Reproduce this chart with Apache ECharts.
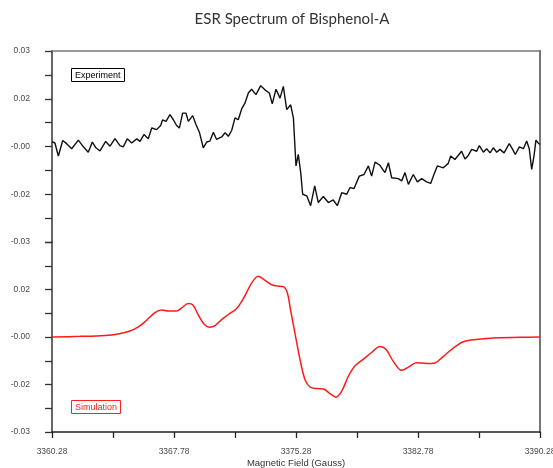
<!DOCTYPE html>
<html>
<head>
<meta charset="utf-8">
<title>ESR Spectrum of Bisphenol-A</title>
<script src="https://cdn.jsdelivr.net/npm/echarts@6/dist/echarts.min.js"></script>
<style>
  html, body { margin: 0; padding: 0; background: #fff; }
  #chart { width: 553px; height: 468px; }
</style>
</head>
<body>
<div id="chart"></div>
<script>
// Measured spectrum (magnetic field in gauss, first-derivative signal)
const expField = [
  3360.28, 3360.32, 3360.46, 3360.67, 3360.94, 3361.18, 3361.49, 3361.90, 3362.21, 3362.51,
  3362.76, 3362.98, 3363.23, 3363.58, 3363.85, 3364.15, 3364.46, 3364.66, 3364.91, 3365.18,
  3365.49, 3365.69, 3365.94, 3366.20, 3366.41, 3366.71, 3366.96, 3367.08, 3367.29, 3367.53,
  3367.74, 3367.94, 3368.11, 3368.31, 3368.52, 3368.66, 3368.93, 3369.13, 3369.34, 3369.58,
  3369.79, 3369.99, 3370.20, 3370.40, 3370.71, 3370.92, 3371.12, 3371.33, 3371.53, 3371.73,
  3371.94, 3372.14, 3372.35, 3372.55, 3372.82, 3373.11, 3373.37, 3373.64, 3373.82, 3374.05,
  3374.30, 3374.50, 3374.71, 3374.95, 3375.12, 3375.28, 3375.42, 3375.57, 3375.69, 3375.94,
  3376.18, 3376.43, 3376.65, 3376.96, 3377.27, 3377.57, 3377.82, 3378.09, 3378.40, 3378.60,
  3378.85, 3379.17, 3379.46, 3379.73, 3379.93, 3380.14, 3380.44, 3380.75, 3380.96, 3381.16,
  3381.26, 3381.57, 3381.78, 3381.98, 3382.19, 3382.49, 3382.74, 3383.01, 3383.31, 3383.56,
  3383.76, 3383.97, 3384.34, 3384.64, 3384.79, 3385.05, 3385.46, 3385.67, 3385.87, 3386.08,
  3386.39, 3386.55, 3386.80, 3387.00, 3387.21, 3387.41, 3387.62, 3387.82, 3388.07, 3388.39,
  3388.60, 3388.76, 3389.01, 3389.26, 3389.46, 3389.62, 3389.77, 3389.91, 3390.03, 3390.17,
  3390.28
];
const expSignal = [
  0.0015, 0.0017, 0.0011, -0.0030, 0.0019, 0.0009, -0.0007, 0.0020, -0.0001, -0.0018,
  0.0014, -0.0004, -0.0014, 0.0016, 0.0001, 0.0025, 0.0003, -0.0001, 0.0024, 0.0011,
  0.0024, 0.0016, 0.0038, 0.0024, 0.0058, 0.0053, 0.0066, 0.0084, 0.0079, 0.0100,
  0.0084, 0.0066, 0.0058, 0.0105, 0.0105, 0.0079, 0.0097, 0.0069, 0.0045, -0.0004,
  0.0014, 0.0017, 0.0045, 0.0022, 0.0030, 0.0043, 0.0032, 0.0051, 0.0090, 0.0084,
  0.0118, 0.0136, 0.0168, 0.0180, 0.0163, 0.0191, 0.0178, 0.0168, 0.0134, 0.0180,
  0.0152, 0.0189, 0.0116, 0.0131, 0.0090, -0.0061, -0.0025, -0.0082, -0.0150, -0.0155,
  -0.0186, -0.0124, -0.0176, -0.0157, -0.0176, -0.0168, -0.0186, -0.0145, -0.0150, -0.0129,
  -0.0132, -0.0093, -0.0088, -0.0061, -0.0093, -0.0049, -0.0059, -0.0082, -0.0051, -0.0098,
  -0.0103, -0.0101, -0.0108, -0.0082, -0.0119, -0.0088, -0.0111, -0.0101, -0.0111, -0.0116,
  -0.0088, -0.0061, -0.0067, -0.0053, -0.0030, -0.0041, -0.0015, -0.0039, -0.0028, -0.0009,
  -0.0015, 0.0003, -0.0018, -0.0007, -0.0020, -0.0004, -0.0018, -0.0009, -0.0020, 0.0009,
  -0.0009, -0.0025, -0.0001, -0.0007, 0.0017, -0.0007, -0.0072, -0.0030, 0.0020, 0.0011,
  0.0006
];

// Simulated spectrum
const simField = [
  3360.28, 3362.00, 3363.54, 3364.26, 3365.07, 3365.59, 3366.10, 3366.61, 3367.02, 3367.43,
  3367.94, 3368.25, 3368.66, 3368.93, 3369.28, 3369.62, 3369.95, 3370.30, 3370.71, 3371.12,
  3371.63, 3372.04, 3372.55, 3372.96, 3373.27, 3373.78, 3374.30, 3374.50, 3374.75, 3374.95,
  3375.22, 3375.53, 3375.83, 3376.14, 3376.55, 3376.96, 3377.37, 3377.74, 3378.09, 3378.50,
  3378.91, 3379.42, 3379.93, 3380.44, 3380.81, 3381.26, 3381.78, 3382.19, 3382.70, 3383.31,
  3383.82, 3384.34, 3384.95, 3385.57, 3386.18, 3387.41, 3389.05, 3390.28
];
const simSignal = [
  0.0000, 0.0002, 0.0005, 0.0009, 0.0019, 0.0032, 0.0053, 0.0077, 0.0085, 0.0082,
  0.0082, 0.0092, 0.0106, 0.0102, 0.0069, 0.0041, 0.0031, 0.0036, 0.0055, 0.0071,
  0.0090, 0.0121, 0.0170, 0.0192, 0.0183, 0.0165, 0.0160, 0.0159, 0.0139, 0.0084,
  0.0011, -0.0072, -0.0134, -0.0158, -0.0163, -0.0164, -0.0179, -0.0190, -0.0171, -0.0124,
  -0.0091, -0.0070, -0.0049, -0.0030, -0.0039, -0.0077, -0.0105, -0.0095, -0.0081, -0.0084,
  -0.0082, -0.0061, -0.0035, -0.0015, -0.0009, -0.0003, -0.0001, 0.0000
];

// Axis ticks and labels
const xMin = 3360.28, xMax = 3390.28;
const xTickValues = [3360.28, 3364.03, 3367.78, 3371.53, 3375.28, 3379.03, 3382.78, 3386.53, 3390.28];
const xLabelValues = [3360.28, 3367.78, 3375.28, 3382.78, 3390.28];
const yMin = -0.03, yMax = 0.03;
const yTickValues = [-0.03, -0.0225, -0.015, -0.0075, 0, 0.0075, 0.015, 0.0225, 0.03];
const yLabelValuesTop = [0.03, 0.015, 0, -0.015, -0.03];
const yLabelTextsTop = ['0.03', '0.02', '-0.00', '-0.02', '-0.03'];
const yLabelValuesBottom = [0.015, 0, -0.015, -0.03];
const yLabelTextsBottom = ['0.02', '-0.00', '-0.02', '-0.03'];

const zip = (xs, ys) => xs.map((x, i) => [x, ys[i]]);
const labelFont = 'Liberation Sans, Arial, sans-serif';

function lookup(values, texts) {
  return function (v) {
    for (let i = 0; i < values.length; i++) {
      if (Math.abs(values[i] - v) < 1e-9) return texts[i];
    }
    return '';
  };
}

function leftAxis(gridIndex, labelValues, labelTexts) {
  return {
    type: 'value', gridIndex: gridIndex, position: 'left',
    min: yMin, max: yMax,
    axisLine: { show: true, onZero: false, lineStyle: { color: '#333', width: 1.5 } },
    axisTick: { show: true, length: 7, customValues: yTickValues, lineStyle: { color: '#333', width: 1.3 } },
    axisLabel: {
      show: true, customValues: labelValues, formatter: lookup(labelValues, labelTexts),
      margin: 22, fontSize: 8.5, color: '#4a4a4a', fontFamily: labelFont,
      showMinLabel: true, showMaxLabel: true, hideOverlap: false
    },
    splitLine: { show: false }
  };
}

function rightAxis(gridIndex) {
  return {
    type: 'value', gridIndex: gridIndex, position: 'right',
    min: yMin, max: yMax,
    axisLine: { show: true, onZero: false, lineStyle: { color: '#777', width: 2 } },
    axisTick: { show: false }, axisLabel: { show: false }, splitLine: { show: false }
  };
}

const chart = echarts.init(document.getElementById('chart'), null, { renderer: 'canvas' });

chart.setOption({
  animation: false,
  backgroundColor: '#fff',
  title: [
    {
      text: 'Experiment', left: 71, top: 68,
      padding: [3, 4, 2, 4], borderColor: '#000', borderWidth: 1,
      textStyle: { fontSize: 9, fontWeight: 'normal', color: '#000', fontFamily: labelFont }
    },
    {
      text: 'Simulation', left: 71, top: 400,
      padding: [3, 4, 2, 4], borderColor: '#ff2020', borderWidth: 1,
      textStyle: { fontSize: 9, fontWeight: 'normal', color: '#ff2020', fontFamily: labelFont }
    }
  ],
  graphic: [
    {
      type: 'text', x: 292, y: 19,
      style: {
        text: 'ESR Spectrum of Bisphenol-A', fill: '#333',
        font: '15px Lato, "Open Sans", sans-serif', textAlign: 'center', textVerticalAlign: 'middle'
      }
    }
  ],
  grid: [
    { left: 52, top: 51, width: 488, height: 191, containLabel: false, outerBoundsMode: 'none' },
    { left: 52, top: 242, width: 488, height: 190, containLabel: false, outerBoundsMode: 'none' }
  ],
  xAxis: [
    {
      type: 'value', gridIndex: 0, position: 'top', min: xMin, max: xMax,
      axisLine: { show: true, onZero: false, lineStyle: { color: '#777', width: 1.5 } },
      axisTick: { show: false }, axisLabel: { show: false }, splitLine: { show: false }
    },
    {
      type: 'value', gridIndex: 1, position: 'bottom', min: xMin, max: xMax,
      name: 'Magnetic Field (Gauss)', nameLocation: 'middle', nameGap: 26,
      nameTextStyle: { fontSize: 9.5, color: '#333', fontFamily: labelFont },
      axisLine: { show: true, onZero: false, lineStyle: { color: '#222', width: 1.5 } },
      axisTick: { show: true, length: 6, customValues: xTickValues, lineStyle: { color: '#222', width: 1.3 } },
      axisLabel: {
        show: true, customValues: xLabelValues, formatter: v => v.toFixed(2),
        margin: 15, fontSize: 8.5, color: '#4a4a4a', fontFamily: labelFont,
        showMinLabel: true, showMaxLabel: true, hideOverlap: false
      },
      splitLine: { show: false }
    }
  ],
  yAxis: [
    leftAxis(0, yLabelValuesTop, yLabelTextsTop),
    rightAxis(0),
    leftAxis(1, yLabelValuesBottom, yLabelTextsBottom),
    rightAxis(1)
  ],
  series: [
    {
      name: 'Experiment', type: 'line', xAxisIndex: 0, yAxisIndex: 0,
      data: zip(expField, expSignal), showSymbol: false,
      lineStyle: { color: '#111', width: 1.4 }
    },
    {
      name: 'Simulation', type: 'line', xAxisIndex: 1, yAxisIndex: 2,
      data: zip(simField, simSignal), showSymbol: false, smooth: 0.35,
      lineStyle: { color: '#ff1a1a', width: 1.5 }
    }
  ]
});
</script>
</body>
</html>
